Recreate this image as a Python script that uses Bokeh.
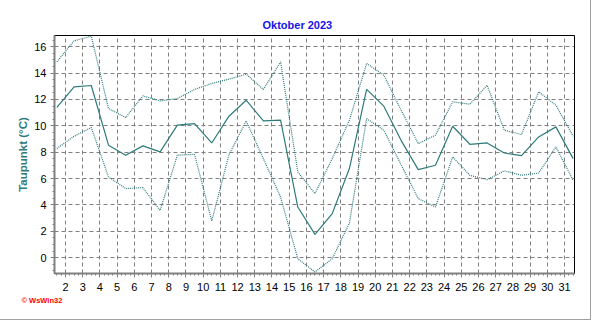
from bokeh.plotting import figure
from bokeh.models import Range1d, FixedTicker, Title
from bokeh.embed import file_html
from bokeh.resources import INLINE

# Day of month (values plotted at noon of each day)
days = list(range(1, 32))
mean_dew = [11.4, 12.95, 13.06, 8.53, 7.77, 8.48, 8.02, 10.05, 10.17, 8.7,
            10.73, 11.94, 10.37, 10.43, 3.84, 1.77, 3.34, 6.76, 12.76, 11.49,
            8.9, 6.68, 7.01, 9.97, 8.6, 8.7, 7.94, 7.74, 9.16, 9.92, 7.51]
max_dew = [14.85, 16.45, 16.8, 11.31, 10.63, 12.27, 11.89, 12.07, 12.76, 13.21,
           13.54, 13.92, 12.76, 14.85, 6.5, 4.86, 7.51, 10.43, 14.73, 13.84,
           11.2, 8.65, 9.29, 11.82, 11.64, 13.08, 9.67, 9.34, 12.58, 11.56, 9.21]
min_dew = [8.28, 9.21, 9.87, 6.12, 5.24, 5.31, 3.59, 7.77, 7.84, 2.78,
           7.8, 10.37, 7.51, 4.6, -0.08, -1.09, -0.08, 2.63, 10.55, 9.67,
           7.06, 4.48, 3.84, 7.64, 6.25, 5.92, 6.58, 6.25, 6.42, 8.4, 5.87]
x_tick_days = list(range(2, 32))
y_ticks = [0, 2, 4, 6, 8, 10, 12, 14, 16]

title_text = "Oktober 2023"
y_label = "Taupunkt (°C)"
logo_text = "© WsWin32"

teal = "#2F7A7A"
grid_col = "#808080"
FONT = "Liberation Sans"

xpos = [d + 0.5 for d in days]

p = figure(width=591, height=320, output_backend="svg", toolbar_location=None,
           x_range=Range1d(1.362, 31.58), y_range=Range1d(-1.2, 16.85),
           min_border_left=54, min_border_right=17, min_border_top=35,
           min_border_bottom=47)
p.styles = {"border-right": "1px solid #a0a0a0", "border-bottom": "1px solid #a0a0a0"}
p.background_fill_color = "white"
p.border_fill_color = "white"
p.outline_line_color = "black"
p.outline_line_width = 1

p.title.text = title_text
p.title.align = "left"
p.title.offset = 208
p.title.standoff = 9
p.title.text_font = FONT
p.title.text_font_size = "11px"
p.title.text_font_style = "bold"
p.title.text_color = "#1414E6"

# x axis
xminor = [2 + i * 0.25 for i in range(-3, 4 * 30)]
p.xaxis.ticker = FixedTicker(ticks=x_tick_days, minor_ticks=xminor)
# y axis
yminor = [i * 0.5 for i in range(-2, 34)]
p.yaxis.ticker = FixedTicker(ticks=y_ticks, minor_ticks=yminor)

for ax in (p.xaxis[0], p.yaxis[0]):
    ax.axis_line_color = grid_col
    ax.axis_line_width = 2
    ax.major_tick_line_color = grid_col
    ax.minor_tick_line_color = grid_col
    ax.major_tick_in = 0
    ax.major_tick_out = 4
    ax.minor_tick_in = 0
    ax.minor_tick_out = 2
    ax.major_label_text_font = FONT
    ax.major_label_text_font_size = "11px"
    ax.major_label_text_color = "black"
p.yaxis.major_label_standoff = 4
p.xaxis.major_label_standoff = 5

p.yaxis.axis_label = y_label
p.yaxis.axis_label_text_font = FONT
p.yaxis.axis_label_text_font_size = "11.5px"
p.yaxis.axis_label_text_font_style = "bold"
p.yaxis.axis_label_text_color = teal
p.yaxis.axis_label_standoff = 2

for g in (p.xgrid[0], p.ygrid[0]):
    g.grid_line_color = grid_col
    g.grid_line_dash = "4 3"
    g.grid_line_width = 1

p.line(xpos, max_dew, line_color=teal, line_width=1.2, line_dash="1 1")
p.line(xpos, min_dew, line_color=teal, line_width=1.2, line_dash="1 1")
p.line(xpos, mean_dew, line_color=teal, line_width=1.2)

logo = Title(text=logo_text, align="left", offset=-33, standoff=0, text_font=FONT,
             text_font_size="7.5px", text_font_style="bold", text_color="red",
             vertical_align="bottom")
p.add_layout(logo, "below")

open("out.html", "w").write(file_html(p, INLINE))
